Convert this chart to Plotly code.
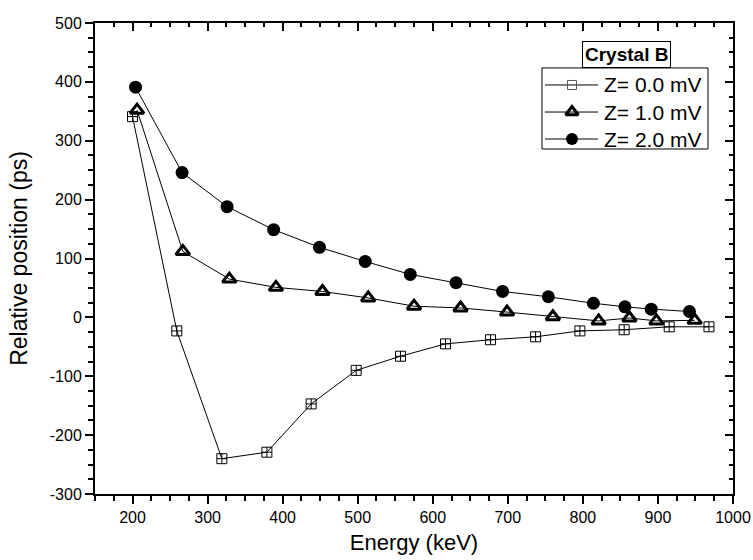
import plotly.graph_objects as go

# Data
energy_z0 = [200, 259, 319, 379, 438, 498, 557, 617, 677, 737, 796, 855, 915, 968]
pos_z0 = [341, -23, -240, -229, -147, -90, -66, -45, -38, -33, -23, -21, -16, -16]

energy_z1 = [206, 267, 329, 391, 453, 514, 575, 637, 699, 760, 821, 862, 898, 949]
pos_z1 = [352, 112, 65, 51, 44, 33, 19, 16, 9, 1, -6, -1, -6, -5]

energy_z2 = [204, 266, 326, 388, 449, 510, 570, 631, 693, 754, 814, 856, 891, 942]
pos_z2 = [391, 246, 188, 149, 119, 95, 73, 59, 44, 35, 24, 18, 14, 10]

series_names = ["Z= 0.0 mV", "Z= 1.0 mV", "Z= 2.0 mV"]
legend_title = "Crystal B"
x_title = "Energy (keV)"
y_title = "Relative position (ps)"
x_range = [150, 1000]
y_range = [-300, 500]
x_ticks = list(range(200, 1001, 100))
y_ticks = list(range(-300, 501, 100))

FONT = "Liberation Sans, Arial, sans-serif"

# ---- styles ----
line_style = dict(color="black", width=1)
markers = [
    dict(symbol="square-cross-open", size=10, color="black", line=dict(width=1, color="black")),
    dict(symbol="triangle-up-open", size=12, color="black", line=dict(width=3, color="black")),
    dict(symbol="circle", size=13, color="black", line=dict(width=0)),
]
legend_markers = [
    dict(symbol="square-open", size=9, color="#555", line=dict(width=1, color="#555")),
    dict(symbol="triangle-up-open", size=11, color="black", line=dict(width=3, color="black")),
    dict(symbol="circle", size=12, color="black", line=dict(width=0)),
]

fig = go.Figure()
for xs, ys, name, mk in zip([energy_z0, energy_z1, energy_z2],
                            [pos_z0, pos_z1, pos_z2], series_names, markers):
    fig.add_trace(go.Scatter(x=xs, y=ys, name=name, mode="lines+markers",
                             line=line_style, marker=mk, showlegend=False))

axis_common = dict(
    showline=True, linecolor="black", linewidth=2,
    showgrid=False, zeroline=False, automargin=False,
    tickcolor="black", tickwidth=1.5, ticklen=8,
    tickfont=dict(family=FONT, size=16, color="black"),
)
minor_out = dict(dtick=25, ticks="outside", ticklen=5, tickwidth=1.5, tickcolor="black")
minor_in = dict(dtick=25, ticks="inside", ticklen=4, tickwidth=1.5, tickcolor="black")

fig.update_layout(
    width=753, height=560,
    margin=dict(l=95, r=20, t=23, b=66),
    paper_bgcolor="white", plot_bgcolor="white",
    font=dict(family=FONT, color="black"),
    showlegend=False,
    xaxis=dict(
        range=x_range, tickmode="array", tickvals=x_ticks,
        ticktext=[str(v) for v in x_ticks], ticks="outside", minor=minor_out,
        title=dict(text=x_title, font=dict(family=FONT, size=22), standoff=9),
        **axis_common,
    ),
    yaxis=dict(
        range=y_range, tickmode="array", tickvals=y_ticks,
        ticktext=[str(v) for v in y_ticks], ticks="outside", minor=minor_out,
        title=dict(text=y_title, font=dict(family=FONT, size=23), standoff=16),
        **axis_common,
    ),
    xaxis2=dict(
        range=x_range, tickmode="array", tickvals=x_ticks, ticks="inside",
        overlaying="x", side="top", showticklabels=False, anchor="y", minor=minor_in,
        **axis_common,
    ),
    yaxis2=dict(
        range=y_range, tickmode="array", tickvals=y_ticks, ticks="inside",
        overlaying="y", side="right", showticklabels=False, anchor="x", minor=minor_in,
        **axis_common,
    ),
    # helper axes spanning the plot area in 0..1 units, for the legend symbols
    xaxis3=dict(range=[0, 1], overlaying="x", visible=False, anchor="y3"),
    yaxis3=dict(range=[0, 1], overlaying="y", visible=False, anchor="x3"),
)

# invisible trace so the mirrored (top/right) axes are drawn
fig.add_trace(go.Scatter(x=energy_z2, y=pos_z2, xaxis="x2", yaxis="y2",
                         mode="markers", marker=dict(opacity=0),
                         showlegend=False, hoverinfo="skip"))

# ---- legend (Origin style) ----
box_x0, box_x1, box_y0, box_y1 = 0.7006, 0.9608, 0.7325, 0.9045
row_y = [0.8684, 0.8110, 0.7537]
line_x0, line_x1, sym_x, text_x = 0.7053, 0.7884, 0.7476, 0.7947

fig.add_shape(type="rect", xref="paper", yref="paper",
              x0=box_x0, x1=box_x1, y0=box_y0, y1=box_y1,
              line=dict(color="black", width=1), fillcolor="white", layer="below")
for ry, name, mk in zip(row_y, series_names, legend_markers):
    fig.add_shape(type="line", xref="paper", yref="paper",
                  x0=line_x0, x1=line_x1, y0=ry, y1=ry,
                  line=dict(color="black", width=1), layer="below")
    fig.add_trace(go.Scatter(x=[sym_x], y=[ry], xaxis="x3", yaxis="y3",
                             mode="markers", marker=mk, showlegend=False,
                             hoverinfo="skip"))
    fig.add_annotation(text=name, xref="paper", yref="paper", x=text_x, y=ry,
                       xanchor="left", yanchor="middle", showarrow=False,
                       font=dict(family=FONT, size=21, color="black"))

fig.add_annotation(
    text="<b>" + legend_title + "</b>", xref="paper", yref="paper",
    x=0.8323, y=0.9045, xanchor="center", yanchor="bottom", showarrow=False,
    font=dict(family=FONT, size=19, color="black"),
    bgcolor="white", bordercolor="black", borderwidth=1, borderpad=2,
)

fig.write_html("out.html")
